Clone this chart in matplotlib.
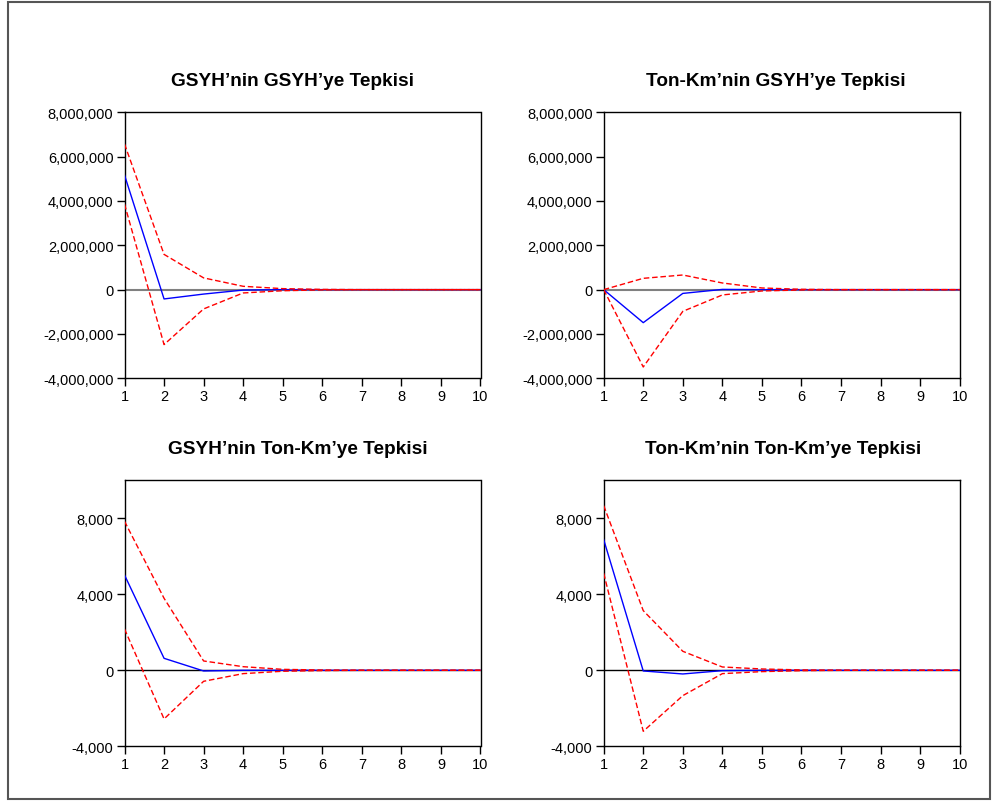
import numpy as np
import matplotlib.pyplot as plt
from matplotlib.patches import Rectangle
from matplotlib.ticker import FuncFormatter

plt.rcParams["font.family"] = ["Liberation Sans", "DejaVu Sans"]

# ── Data ─────────────────────────────────────────────────────────────────────
periods = list(range(1, 11))

titles = [
    "GSYH\u2019nin GSYH\u2019ye Tepkisi",
    "Ton-Km\u2019nin GSYH\u2019ye Tepkisi",
    "GSYH\u2019nin Ton-Km\u2019ye Tepkisi",
    "Ton-Km\u2019nin Ton-Km\u2019ye Tepkisi",
]

# GSYH -> GSYH
resp_gg  = [5170000, -420000, -200000, -20000, 0, 0, 0, 0, 0, 0]
upper_gg = [6570000, 1590000, 530000, 150000, 45000, 10000, 0, 0, 0, 0]
lower_gg = [3860000, -2480000, -870000, -150000, -50000, -10000, 0, 0, 0, 0]

# Ton-Km -> GSYH
resp_tg  = [0, -1490000, -170000, 10000, 0, 0, 0, 0, 0, 0]
upper_tg = [0, 510000, 660000, 300000, 75000, 15000, 0, 0, 0, 0]
lower_tg = [0, -3490000, -980000, -240000, -60000, -15000, 0, 0, 0, 0]

# GSYH -> Ton-Km
resp_gt  = [5016, 631, -35, 0, 0, 0, 0, 0, 0, 0]
upper_gt = [7842, 3790, 491, 190, 50, 15, 0, 0, 0, 0]
lower_gt = [2175, -2561, -579, -175, -50, -15, 0, 0, 0, 0]

# Ton-Km -> Ton-Km
resp_tt  = [6877, -35, -193, -18, 0, 0, 0, 0, 0, 0]
upper_tt = [8667, 3140, 1000, 175, 70, 20, 0, 0, 0, 0]
lower_tt = [5105, -3210, -1333, -175, -70, -20, 0, 0, 0, 0]

top_yticks = [-4000000, -2000000, 0, 2000000, 4000000, 6000000, 8000000]
bot_yticks = [-4000, 0, 4000, 8000]

panels = [
    (resp_gg, upper_gg, lower_gg, (-4000000, 8000000), top_yticks, "#808080", 1.5),
    (resp_tg, upper_tg, lower_tg, (-4000000, 8000000), top_yticks, "#808080", 1.5),
    (resp_gt, upper_gt, lower_gt, (-4000, 10000), bot_yticks, "black", 1.0),
    (resp_tt, upper_tt, lower_tt, (-4000, 10000), bot_yticks, "black", 1.0),
]

# axes boxes in figure fractions [left, bottom, width, height]
W, H = 999, 804
boxes = [
    [124.5 / W, 1 - 379.3 / H, 356 / W, 266 / H],
    [603.7 / W, 1 - 379.3 / H, 356 / W, 266 / H],
    [124.5 / W, 1 - 747.3 / H, 356 / W, 266 / H],
    [603.7 / W, 1 - 747.3 / H, 356 / W, 266 / H],
]
# horizontal title centres (axes fraction) as placed in the reference
title_x = [0.472, 0.483, 0.487, 0.504]

fig = plt.figure(figsize=(9.99, 8.04), dpi=100)
fig.patch.set_facecolor("white")

# outer frame
fig.patches.append(Rectangle((8 / W, 1 - 800 / H), 982 / W, 797 / H,
                             transform=fig.transFigure, fill=False,
                             edgecolor="#555555", linewidth=1.5))

fmt = FuncFormatter(lambda v, _: f"{v:,.0f}")

for box, title, tx, (resp, up, lo, ylim, yt, zc, zlw) in zip(boxes, titles, title_x, panels):
    ax = fig.add_axes(box)
    ax.axhline(0, color=zc, linewidth=zlw, zorder=1)
    ax.plot(periods, resp, color="blue", linewidth=1.0, zorder=3)
    ax.plot(periods, up, color="red", linewidth=1.0, linestyle=(0, (4, 2)), zorder=4)
    ax.plot(periods, lo, color="red", linewidth=1.0, linestyle=(0, (4, 2)), zorder=4)

    ax.set_xlim(1, 10)
    ax.set_ylim(*ylim)
    ax.set_xticks(periods)
    ax.set_yticks(yt)
    ax.yaxis.set_major_formatter(fmt)
    ax.tick_params(direction="out", length=6, width=1, labelsize=10.5, pad=2,
                   colors="black")
    for sp in ax.spines.values():
        sp.set_linewidth(1.0)
        sp.set_color("black")
    ax.set_title(title, fontsize=13.7, fontweight="bold", pad=19.5, x=tx)

fig.savefig("out.png", dpi=100)
